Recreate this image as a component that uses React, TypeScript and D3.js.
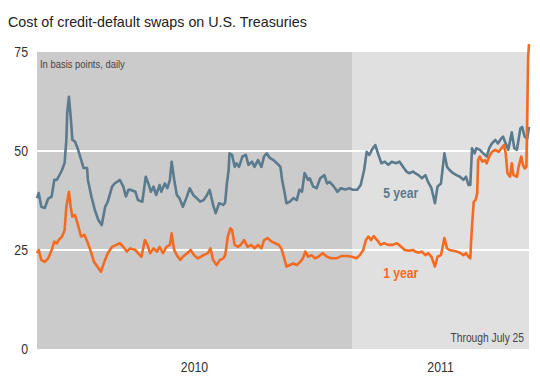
import React from 'react';
import * as d3 from 'd3';

// values, in basis points
const startDate = new Date(2010, 0, 1);
const endDate = new Date(2011, 6, 25);
const yTicks = [0, 25, 50, 75];
const gridValues = [25, 50];
const yearLabels = ['2010', '2011'];
const yearBounds = [new Date(2010, 0, 1), new Date(2011, 0, 1), new Date(2011, 6, 25)];

// day offsets from Jan 1 2010
const fiveYearDays = [
  0, 2, 5, 9, 13, 17, 20, 23, 25, 29, 32, 34, 35, 37, 39, 41, 44, 47, 50, 54, 58, 59, 63, 67, 71, 75, 79, 82,
  87, 90, 96, 100, 103, 106, 108, 114, 117, 122, 126, 129, 132, 135, 138, 142, 144, 148, 151, 154, 156, 159,
  162, 165, 169, 173, 177, 181, 185, 189, 193, 197, 200, 204, 207, 211, 216, 218, 220, 222, 223, 226, 229,
  231, 234, 238, 242, 245, 249, 252, 256, 260, 263, 266, 270, 274, 278, 282, 284, 287, 289, 293, 297, 301,
  304, 307, 310, 314, 316, 320, 324, 328, 333, 336, 339, 344, 348, 352, 357, 362, 366, 371, 375, 379, 382,
  385, 388, 392, 395, 399, 403, 407, 411, 416, 420, 424, 428, 431, 436, 438, 442, 446, 450, 453, 457, 461,
  464, 468, 472, 475, 478, 482, 486, 490, 494, 497, 500, 502, 504, 507, 509, 513, 517, 521, 524, 527, 531,
  534, 538, 540, 543, 546, 550, 553, 556, 560, 562, 565, 568, 570,
];
const fiveYearValues = [
  38.1, 39.4, 35.9, 35.6, 38, 38.5, 42.7, 42.7, 43.5, 45.2, 47, 52.8, 59.6, 63.7, 58.7, 52.8, 52.4, 50.7, 48.6,
  45.7, 45.7, 42.7, 38.5, 35.1, 32.6, 31.3, 35.9, 37.2, 41, 41.8, 42.7, 41, 38.5, 40.2, 40.2, 39.7, 37.6, 37.2,
  43.5, 41.8, 39.7, 41, 38.9, 41.4, 39.7, 41.8, 40.6, 42.7, 47.3, 42.7, 38.9, 38.1, 35.9, 38.1, 40.6, 38.9,
  38.1, 37.2, 37.6, 38.9, 40.2, 36.4, 34.3, 36.8, 36.4, 37, 41.8, 45.2, 49.4, 49, 46, 46.9, 46, 48.6, 49, 46.5,
  47.3, 46, 47.7, 46, 48.6, 49.4, 48.2, 47.7, 46.9, 46, 42.7, 39.3, 36.8, 37.2, 38.1, 37.6, 40.2, 39.7, 44.4,
  42.7, 43.1, 41, 40.6, 43.1, 43.9, 41.8, 42.2, 41, 39.7, 40.6, 40.3, 40.6, 40.2, 40.2, 41.4, 45.2, 49.8, 49,
  50.3, 51.5, 49.4, 46.9, 47.3, 46.5, 47.3, 46.9, 47.3, 46, 44.8, 44.4, 44.8, 44.4, 43.9, 43.1, 43.9, 42.2,
  40.6, 36.8, 41, 41.8, 49.4, 46, 45.2, 44.4, 43.9, 43.5, 42.7, 43.5, 41.4, 41.4, 50.7, 49.4, 50.7, 50.3, 49.4,
  48.6, 50.7, 51.9, 52.8, 51.9, 53.2, 53.6, 51.9, 50.3, 54.7, 50.7, 50.3, 55.7, 56.1, 53.6, 53.2, 56.1,
];

const oneYearDays = [
  0, 2, 5, 9, 13, 17, 20, 23, 25, 29, 32, 34, 37, 39, 41, 44, 47, 51, 55, 59, 63, 66, 70, 74, 78, 82, 87, 92,
  96, 100, 104, 108, 114, 117, 121, 125, 128, 131, 135, 139, 142, 146, 150, 154, 156, 159, 162, 166, 169, 174,
  178, 182, 186, 190, 193, 198, 201, 204, 208, 212, 216, 218, 220, 221, 224, 226, 229, 233, 236, 240, 244, 248,
  252, 256, 260, 263, 267, 272, 276, 280, 283, 286, 289, 293, 297, 301, 305, 308, 311, 314, 318, 322, 326,
  331, 336, 341, 347, 353, 359, 365, 370, 374, 378, 381, 384, 387, 390, 394, 398, 402, 407, 412, 417, 422,
  426, 431, 436, 438, 442, 446, 450, 453, 457, 461, 464, 468, 472, 475, 478, 482, 486, 490, 494, 497, 500,
  502, 503, 505, 506, 508, 510, 511, 513, 516, 519, 521, 524, 527, 531, 535, 538, 541, 543, 545, 548, 550,
  552, 556, 558, 561, 563, 565, 567, 569, 570,
];
const oneYearValues = [
  24.2, 25, 22.5, 22, 22.9, 25, 27.1, 26.7, 27.5, 28.4, 30, 35.9, 39.7, 35.9, 33.4, 33.8, 31.7, 28.4, 28.8,
  26.7, 24.2, 22, 20.8, 19.5, 22, 24.2, 25.8, 26.3, 26.7, 25.8, 24.6, 25.4, 25, 24.2, 23.3, 27.5, 26.3, 24.2,
  25.4, 24.6, 25.8, 24.2, 25.8, 26.3, 29.2, 25, 23.7, 22.5, 23.3, 24.2, 25, 23.7, 22.9, 23.3, 23.7, 24.2, 25.4,
  22.5, 21.2, 22.5, 22.9, 23.7, 26.7, 28.4, 30.5, 30, 26.3, 25.8, 26.3, 27.5, 25.8, 26.3, 25.4, 26.3, 25.4,
  27.5, 28, 27.1, 26.7, 26.3, 25.4, 23.3, 20.8, 21.2, 21.6, 21.2, 22, 22.9, 24.6, 23.3, 23.7, 22.9, 23.3,
  24.2, 23.3, 22.9, 22.9, 23.5, 23.5, 23.3, 22.9, 23.7, 25, 27.5, 28.4, 27.5, 28.5, 27.5, 26.3, 26.7, 26.3,
  26.3, 26.7, 25.8, 25, 24.8, 25, 24.6, 24.3, 24.6, 23.7, 24.2, 23.3, 20.8, 23.3, 23.7, 28, 25.4, 25, 24.8,
  24.6, 24.3, 23.7, 24.2, 23.3, 22.9, 27.5, 34.3, 37.2, 37.6, 39.3, 47.7, 48.6, 47.3, 47.7, 46.9, 48.6, 49.8,
  50.3, 49.8, 50.7, 51.5, 49.4, 44.4, 43.5, 46.9, 43.9, 43.5, 46, 48.6, 46.5, 45.6, 46, 73.8, 77,
];

const W = 540;
const H = 384;
const sans = '"Liberation Sans", Arial, sans-serif';

// no narrow font installed, so squeeze Liberation Sans horizontally
function NarrowText({ x, y, squeeze = 0.82, anchor = 'start', size, fill, weight = 'normal', dy, children }: any) {
  return (
    <text
      transform={`translate(${x},${y}) scale(${squeeze},1)`}
      textAnchor={anchor}
      fontFamily={sans}
      fontSize={size}
      fontWeight={weight}
      fill={fill}
      dy={dy}
    >
      {children}
    </text>
  );
}

export default function App() {
  const x = d3.scaleTime().domain([startDate, endDate]).range([37, 529]);
  const y = d3.scaleLinear().domain([0, 75]).range([349, 52]);

  const toPoints = (days: number[], vals: number[]) =>
    days.map((d, i) => ({ date: d3.timeDay.offset(startDate, d), v: vals[i] }));

  const line = d3.line<{ date: Date; v: number }>()
    .x(d => x(d.date))
    .y(d => y(d.v));

  const five = toPoints(fiveYearDays, fiveYearValues);
  const one = toPoints(oneYearDays, oneYearValues);
  const labelX = x(d3.timeDay.offset(startDate, 401));

  return (
    <div style={{ position: 'absolute', left: 0, top: 0 }}>
      <svg width={W} height={H} style={{ display: 'block', background: '#fff' }}>
        <text x={8} y={27} fontFamily={sans} fontSize={14.3} fill="#222">
          Cost of credit-default swaps on U.S. Treasuries
        </text>

        {yearLabels.map((lab, i) => (
          <rect
            key={'band' + lab}
            x={x(yearBounds[i])}
            y={y(75)}
            width={x(yearBounds[i + 1]) - x(yearBounds[i])}
            height={y(0) - y(75)}
            fill={i === 0 ? '#cbcbcb' : '#e0e0e0'}
          />
        ))}

        {gridValues.map(v => (
          <line key={'g' + v} x1={x(startDate)} x2={x(endDate)} y1={y(v)} y2={y(v)} stroke="#fff" strokeWidth={2} />
        ))}

        {yTicks.map(v => (
          <NarrowText key={'t' + v} x={28} y={y(v)} dy="0.36em" anchor="end" size={15} fill="#333">
            {v}
          </NarrowText>
        ))}

        {yearLabels.map((lab, i) => (
          <NarrowText
            key={'y' + lab}
            x={(x(yearBounds[i]) + x(yearBounds[i + 1])) / 2}
            y={372}
            anchor="middle"
            size={15}
            fill="#333"
          >
            {lab}
          </NarrowText>
        ))}

        <NarrowText x={40} y={68} size={11.5} fill="#444">In basis points, daily</NarrowText>
        <NarrowText x={524} y={342} anchor="end" size={12.5} fill="#444">Through July 25</NarrowText>

        <path d={line(five) || ''} fill="none" stroke="#5a7a8d" strokeWidth={2.6} strokeLinejoin="round" />
        <path d={line(one) || ''} fill="none" stroke="#f36b21" strokeWidth={2.6} strokeLinejoin="round" />

        <NarrowText x={labelX} y={y(38.1)} squeeze={0.84} size={14.5} weight="bold" fill="#5a7a8d">
          5 year
        </NarrowText>
        <NarrowText x={labelX} y={y(18)} squeeze={0.84} size={14.5} weight="bold" fill="#f36b21">
          1 year
        </NarrowText>
      </svg>
    </div>
  );
}
